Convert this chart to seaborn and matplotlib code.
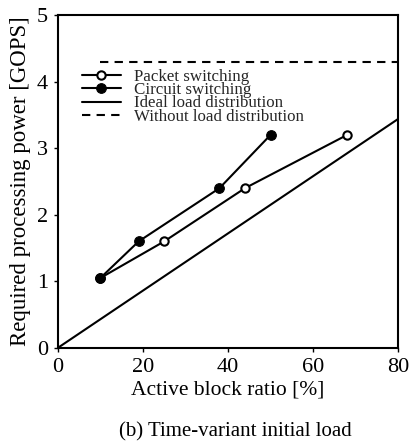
import matplotlib
matplotlib.use("Agg")
import matplotlib.pyplot as plt
import seaborn as sns
import pandas as pd

sns.set_theme(style="white")
plt.rcParams['font.family'] = ['Liberation Serif', 'DejaVu Serif']

packet_x = [10, 25, 44, 68]
packet_y = [1.05, 1.6, 2.4, 3.2]
circuit_x = [10, 19, 38, 50]
circuit_y = [1.05, 1.6, 2.4, 3.2]
ideal_x = [0, 80]
ideal_y = [0.0, 3.44]
without_x = [10, 80]
without_y = [4.3, 4.3]

x_ticks = [0, 20, 40, 60, 80]
y_ticks = [0, 1, 2, 3, 4, 5]

fig = plt.figure(figsize=(4.16, 4.46), dpi=100)
ax = fig.add_axes([0.139, 0.22, 0.818, 0.746])

df_p = pd.DataFrame({"x": packet_x, "y": packet_y})
df_c = pd.DataFrame({"x": circuit_x, "y": circuit_y})
df_i = pd.DataFrame({"x": ideal_x, "y": ideal_y})
df_w = pd.DataFrame({"x": without_x, "y": without_y})

sns.lineplot(data=df_p, x="x", y="y", ax=ax, color="black", lw=1.5, marker="o",
             markersize=6, markerfacecolor="white", markeredgecolor="black",
             markeredgewidth=1.5, label="Packet switching", sort=False)
sns.lineplot(data=df_c, x="x", y="y", ax=ax, color="black", lw=1.5, marker="o",
             markersize=7, markerfacecolor="black", markeredgecolor="black",
             label="Circuit switching", sort=False)
sns.lineplot(data=df_i, x="x", y="y", ax=ax, color="black", lw=1.5,
             label="Ideal load distribution", sort=False)
sns.lineplot(data=df_w, x="x", y="y", ax=ax, color="black", lw=1.5,
             linestyle=(0, (4, 3)), label="Without load distribution", sort=False)

ax.set_xlim(0, 80)
ax.set_ylim(0, 5)
ax.set_xticks(x_ticks)
ax.set_yticks(y_ticks)
ax.tick_params(axis="both", labelsize=16, length=3, width=1, direction="out",
               bottom=True, left=True, colors="black", pad=4)
for s in ax.spines.values():
    s.set_color("black")
    s.set_linewidth(1.5)
ax.set_xlabel("Active block ratio [%]", fontsize=15.5, color="black", labelpad=3)
ax.set_ylabel("Required processing power [GOPS]", fontsize=16.5, color="black", labelpad=4)

leg = ax.legend(loc="upper left", bbox_to_anchor=(0.05, 0.86), frameon=False,
                fontsize=12.2, handlelength=2.3, labelspacing=-0.15,
                handletextpad=0.8, borderaxespad=0)

fig.text(0.565, 0.032, "(b) Time-variant initial load", ha="center", va="center",
         fontsize=15, color="black")

fig.savefig("out.png", dpi=100)
